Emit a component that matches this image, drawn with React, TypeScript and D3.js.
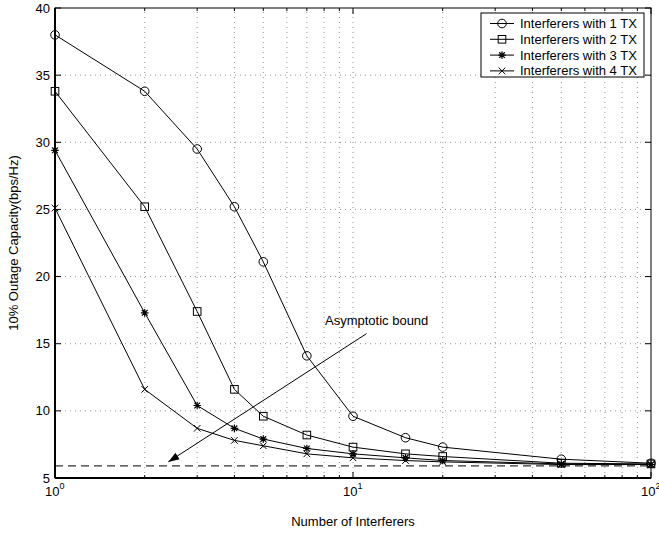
import React from 'react';
import * as d3 from 'd3';

// x values (number of interferers)
const interferers = [1, 2, 3, 4, 5, 7, 10, 15, 20, 50, 100];

// outage capacity per series
const tx1 = [38.0, 33.8, 29.5, 25.2, 21.1, 14.1, 9.6, 8.0, 7.3, 6.4, 6.1];
const tx2 = [33.8, 25.2, 17.4, 11.6, 9.6, 8.2, 7.3, 6.8, 6.6, 6.1, 6.05];
const tx3 = [29.4, 17.3, 10.4, 8.7, 7.9, 7.2, 6.8, 6.5, 6.3, 6.05, 6.0];
const tx4 = [25.1, 11.6, 8.7, 7.8, 7.4, 6.8, 6.5, 6.3, 6.2, 6.0, 6.0];

const seriesNames = ['Interferers with 1 TX', 'Interferers with 2 TX', 'Interferers with 3 TX', 'Interferers with 4 TX'];
const markerKinds = ['circle', 'square', 'star', 'cross'];

const yTicks = [5, 10, 15, 20, 25, 30, 35, 40];
const xMajor = [1, 10, 100];
const xExponents = ['0', '1', '2'];

const asymptote = 5.9;
const annotationText = 'Asymptotic bound';
const arrowFrom = [11.1, 15.75];
const arrowTo = [2.4, 6.2];

const W = 659;
const H = 533;
const margin = { top: 8, right: 8, bottom: 55, left: 55 };
const font = 'Liberation Sans, Arial, Helvetica, sans-serif';

const Marker = ({ kind, x, y }: { kind: string; x: number; y: number }) => {
  if (kind === 'circle') return <circle cx={x} cy={y} r={4.3} fill="none" stroke="#000" strokeWidth={1} />;
  if (kind === 'square') return <rect x={x - 3.8} y={y - 3.8} width={7.6} height={7.6} fill="none" stroke="#000" strokeWidth={1} />;
  if (kind === 'cross') {
    const s = 3.3;
    return <path d={`M${x - s},${y - s}L${x + s},${y + s}M${x - s},${y + s}L${x + s},${y - s}`} stroke="#000" strokeWidth={1} />;
  }
  // asterisk
  const s = 3.8;
  const d = s * 0.75;
  return (
    <path
      d={`M${x - s},${y}L${x + s},${y}M${x},${y - s}L${x},${y + s}M${x - d},${y - d}L${x + d},${y + d}M${x - d},${y + d}L${x + d},${y - d}`}
      stroke="#000"
      strokeWidth={1.2}
    />
  );
};

export default function App() {
  const x = d3.scaleLog().domain([1, 100]).range([margin.left, W - margin.right - 0]);
  const y = d3.scaleLinear().domain([5, 40]).range([H - margin.bottom, margin.top]);
  const x0 = x(1), x1 = x(100), y0 = y(5), y1 = y(40);

  const xMinor = [...d3.range(2, 10), ...d3.range(20, 100, 10)];
  const series = [tx1, tx2, tx3, tx4];
  const line = d3.line<number>().x((_, i) => x(interferers[i])).y(d => y(d));

  const legend = { x: 481, y: 13, w: 163, h: 64, row: 15.8 };

  return (
    <svg width={W} height={H} style={{ position: 'absolute', left: 0, top: 0, background: '#fff' }} fontFamily={font}>
      <defs>
        <marker id="arrowhead" viewBox="0 0 10 10" refX="10" refY="5" markerWidth="11" markerHeight="11" markerUnits="userSpaceOnUse" orient="auto">
          <path d="M0,1.5L10,5L0,8.5Z" fill="#000" />
        </marker>
      </defs>

      {/* grid */}
      <g stroke="#000" strokeWidth={0.7} strokeDasharray="1,4" opacity={0.6}>
        {yTicks.filter(t => t > 5 && t < 40).map(t => (
          <line key={'gy' + t} x1={x0} x2={x1} y1={y(t)} y2={y(t)} />
        ))}
        {[...xMinor, 10].map(t => (
          <line key={'gx' + t} x1={x(t)} x2={x(t)} y1={y0} y2={y1} />
        ))}
      </g>

      {/* asymptote */}
      <line x1={x0} x2={x1} y1={y(asymptote)} y2={y(asymptote)} stroke="#000" strokeWidth={1} strokeDasharray="8,5" />

      {/* series */}
      {series.map((s, k) => (
        <g key={k}>
          <path d={line(s) || ''} fill="none" stroke="#000" strokeWidth={1} />
          {s.map((v, i) => (
            <Marker key={i} kind={markerKinds[k]} x={x(interferers[i])} y={y(v)} />
          ))}
        </g>
      ))}

      {/* annotation */}
      <line
        x1={x(arrowFrom[0])}
        y1={y(arrowFrom[1])}
        x2={x(arrowTo[0])}
        y2={y(arrowTo[1])}
        stroke="#000"
        strokeWidth={1}
        markerEnd="url(#arrowhead)"
      />
      <text x={325} y={y(arrowFrom[1]) - 9} fontSize={13}>{annotationText}</text>

      {/* axes box */}
      <rect x={x0} y={y1} width={x1 - x0} height={y0 - y1} fill="none" stroke="#000" strokeWidth={1} />
      <line x1={x0} x2={x0} y1={y1} y2={y0} stroke="#000" strokeWidth={2} />
      <line x1={x0} x2={x1} y1={y0} y2={y0} stroke="#000" strokeWidth={2} />

      {/* ticks */}
      <g stroke="#000" strokeWidth={1}>
        {yTicks.map(t => (
          <g key={'ty' + t}>
            <line x1={x0} x2={x0 + 6} y1={y(t)} y2={y(t)} />
            <line x1={x1} x2={x1 - 6} y1={y(t)} y2={y(t)} />
          </g>
        ))}
        {xMajor.map(t => (
          <g key={'tx' + t}>
            <line x1={x(t)} x2={x(t)} y1={y0} y2={y0 - 6} />
            <line x1={x(t)} x2={x(t)} y1={y1} y2={y1 + 6} />
          </g>
        ))}
        {xMinor.map(t => (
          <g key={'tm' + t}>
            <line x1={x(t)} x2={x(t)} y1={y0} y2={y0 - 3} />
            <line x1={x(t)} x2={x(t)} y1={y1} y2={y1 + 3} />
          </g>
        ))}
      </g>

      {/* tick labels */}
      {yTicks.map(t => (
        <text key={'ly' + t} x={x0 - 5} y={y(t)} dy="0.35em" textAnchor="end" fontSize={13}>{t}</text>
      ))}
      {xMajor.map((t, i) => (
        <text key={'lx' + t} x={x(t) - 10} y={y0 + 18} fontSize={13}>
          10<tspan dy={-7} fontSize={9}>{xExponents[i]}</tspan>
        </text>
      ))}

      {/* axis labels */}
      <text x={(x0 + x1) / 2} y={526} textAnchor="middle" fontSize={13}>Number of Interferers</text>
      <text transform={`translate(18,${(y0 + y1) / 2}) rotate(-90)`} textAnchor="middle" fontSize={13}>10% Outage Capacity(bps/Hz)</text>

      {/* legend */}
      <g>
        <rect x={legend.x} y={legend.y} width={legend.w} height={legend.h} fill="#fff" stroke="#000" strokeWidth={1} />
        {seriesNames.map((name, k) => {
          const cy = legend.y + 10.5 + k * legend.row;
          return (
            <g key={name}>
              <line x1={490} x2={514} y1={cy} y2={cy} stroke="#000" strokeWidth={1} />
              <Marker kind={markerKinds[k]} x={502} y={cy} />
              <text x={520} y={cy} dy="0.35em" fontSize={13}>{name}</text>
            </g>
          );
        })}
      </g>
    </svg>
  );
}
